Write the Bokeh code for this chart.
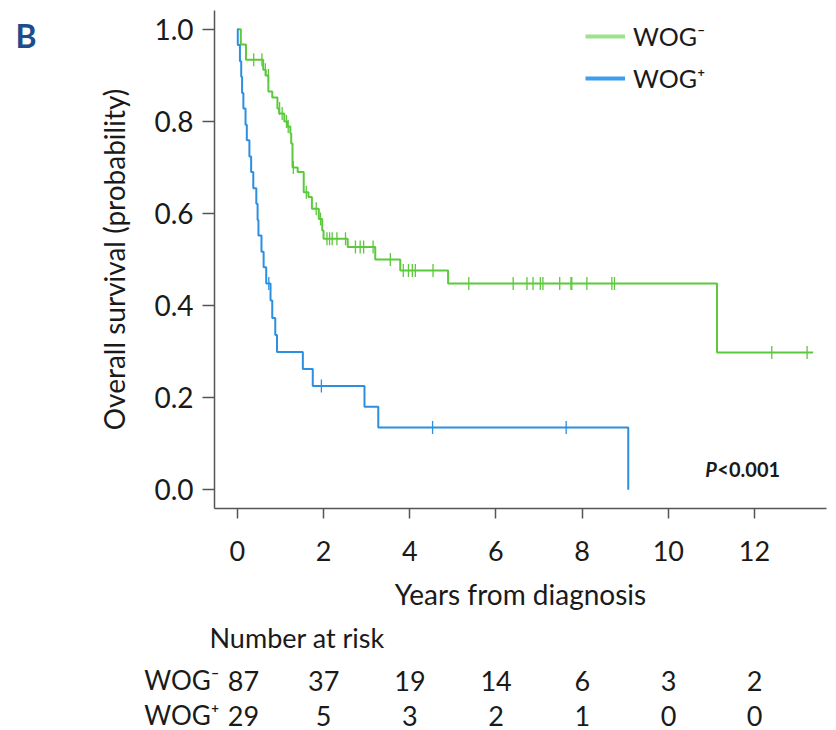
from bokeh.plotting import figure
from bokeh.layouts import column, row
from bokeh.models import Range1d, FixedTicker, PrintfTickFormatter, Label, Legend, LegendItem
from bokeh.core.properties import value
from bokeh.embed import file_html
from bokeh.resources import INLINE

# ---- data ----
# WOG- (green): step times (years) and survival level after each step
neg_t = [0.0, 0.08, 0.20, 0.60, 0.66, 0.72, 0.81, 0.93, 0.97, 1.09, 1.16, 1.23, 1.25, 1.28,
         1.40, 1.54, 1.65, 1.73, 1.89, 1.97, 2.00, 2.56, 3.20, 3.78, 4.89, 11.13, 13.36]
neg_s = [1.0, 0.967, 0.934, 0.912, 0.900, 0.865, 0.852, 0.828, 0.817, 0.800, 0.789, 0.774, 0.752, 0.700,
         0.690, 0.646, 0.636, 0.610, 0.588, 0.563, 0.545, 0.527, 0.500, 0.476, 0.448, 0.298, 0.298]
neg_cens_t = [0.38, 0.57, 0.65, 0.72, 0.98, 1.04, 1.14, 1.18, 1.30, 1.60, 1.83, 1.93,
              2.08, 2.14, 2.20, 2.31, 2.51, 2.74, 2.85, 2.93, 3.15, 3.55,
              3.85, 3.97, 4.06, 4.13, 4.54,
              5.37, 6.40, 6.72, 6.86, 7.03, 7.09, 7.48, 7.74, 7.76, 8.11, 8.69, 8.75,
              12.40, 13.22]
neg_cens_s = [0.934, 0.934, 0.912, 0.900, 0.828, 0.817, 0.800, 0.789, 0.700, 0.646, 0.610, 0.588,
              0.545, 0.545, 0.545, 0.545, 0.545, 0.527, 0.527, 0.527, 0.527, 0.500,
              0.476, 0.476, 0.476, 0.476, 0.476,
              0.448, 0.448, 0.448, 0.448, 0.448, 0.448, 0.448, 0.448, 0.448, 0.448, 0.448, 0.448,
              0.298, 0.298]

# WOG+ (blue)
pos_t = [0.0, 0.01, 0.06, 0.09, 0.11, 0.14, 0.19, 0.22, 0.28, 0.32, 0.37, 0.44, 0.47, 0.49,
         0.56, 0.61, 0.67, 0.77, 0.81, 0.88, 0.92, 1.52, 1.75, 2.95, 3.27, 9.07]
pos_s = [1.0, 0.966, 0.931, 0.897, 0.862, 0.828, 0.793, 0.759, 0.724, 0.690, 0.655, 0.621, 0.586, 0.552,
         0.517, 0.483, 0.448, 0.411, 0.373, 0.336, 0.299, 0.262, 0.225, 0.180, 0.135, 0.0]
pos_cens_t = [0.73, 1.95, 4.53, 7.63]
pos_cens_s = [0.448, 0.225, 0.135, 0.135]

x_ticks = [0, 2, 4, 6, 8, 10, 12]
y_ticks = [0.0, 0.2, 0.4, 0.6, 0.8, 1.0]
risk_neg = [87, 37, 19, 14, 6, 3, 2]
risk_pos = [29, 5, 3, 2, 1, 0, 0]
label_neg = "WOG\u207b"
label_pos = "WOG\u207a"

GREEN = "#5bc93b"
BLUE = "#2b8fe2"
GREEN_LEG = "#9be38c"
BLUE_LEG = "#3f9eec"
FONT = "Lato"
TXT = "#1a1a1a"

# pixel <-> data mapping of the main frame (page coordinates)
X0_PX, PX_PER_YEAR = 237.0, 43.1


def px2x(px):
    return (px - X0_PX) / PX_PER_YEAR


def py2y(py):
    return (489 - py) / 460


# ---------------- left strip with panel letter ----------------
pb = figure(width=60, height=620, x_range=Range1d(0, 60), y_range=Range1d(620, 0),
            output_backend="svg", toolbar_location=None, min_border=0)
pb.axis.visible = False
pb.grid.visible = False
pb.outline_line_color = None
pb.text(x=[15], y=[31], text=["B"], text_font=value(FONT), text_font_style="bold",
        text_font_size="32px", text_color="#1c4d8c", text_baseline="middle")

# ---------------- main KM plot ----------------
p = figure(frame_width=612, frame_height=498, x_range=Range1d(-0.53, 13.67), y_range=Range1d(-0.041, 1.041),
           output_backend="svg", toolbar_location=None,
           min_border_left=154, min_border_right=10, min_border_top=10, min_border_bottom=112)
p.outline_line_color = None
p.xgrid.visible = False
p.ygrid.visible = False

for ax in (p.xaxis[0], p.yaxis[0]):
    ax.axis_line_color = "#555555"
    ax.axis_line_width = 1.5
    ax.major_tick_line_color = "#555555"
    ax.major_tick_line_width = 1.5
    ax.major_tick_in = 0
    ax.minor_tick_line_color = None
    ax.major_label_text_font = FONT
    ax.major_label_text_color = TXT
    ax.axis_label_text_font = FONT
    ax.axis_label_text_color = TXT
    ax.axis_label_text_font_style = "normal"
    ax.axis_label_text_font_size = "28px"

p.xaxis.ticker = FixedTicker(ticks=x_ticks)
p.xaxis.major_tick_out = 10
p.xaxis.major_label_text_font_size = "27px"
p.xaxis.major_label_standoff = 22
p.xaxis.axis_label = "Years from diagnosis"
p.xaxis.axis_label_standoff = 13

p.yaxis.ticker = FixedTicker(ticks=y_ticks)
p.yaxis.formatter = PrintfTickFormatter(format="%.1f")
p.yaxis.major_tick_out = 12
p.yaxis.major_label_text_font_size = "28px"
p.yaxis.major_label_standoff = 9
p.yaxis.axis_label = "Overall survival (probability)"
p.yaxis.axis_label_standoff = 20

p.step(neg_t, neg_s, mode="after", line_color=GREEN, line_width=2)
p.step(pos_t, pos_s, mode="after", line_color=BLUE, line_width=2)
p.scatter(neg_cens_t, neg_cens_s, marker="dash", angle=1.5708, size=13, line_color=GREEN, line_width=1.3)
p.scatter(pos_cens_t, pos_cens_s, marker="dash", angle=1.5708, size=13, line_color=BLUE, line_width=1.3)

nan = float("nan")
leg_g = p.line([nan], [nan], line_color=GREEN_LEG, line_width=4)
leg_b = p.line([nan], [nan], line_color=BLUE_LEG, line_width=4)
legend = Legend(items=[LegendItem(label=label_neg, renderers=[leg_g], index=0),
                       LegendItem(label=label_pos, renderers=[leg_b], index=0)],
                location=(371, 415), glyph_width=40, glyph_height=20, label_standoff=8,
                spacing=12, padding=0, margin=0, border_line_color=None,
                background_fill_alpha=0, label_text_font=FONT, label_text_font_size="25px",
                label_text_color=TXT)
p.add_layout(legend)

p.add_layout(Label(x=px2x(705), y=py2y(468), text="P", text_font=FONT, text_font_style="bold italic",
                   text_font_size="20px", text_color=TXT, text_baseline="middle"))
p.add_layout(Label(x=px2x(717), y=py2y(468), text="<0.001", text_font=FONT, text_font_style="bold",
                   text_font_size="20px", text_color=TXT, text_baseline="middle"))

# ---------------- number-at-risk table ----------------
pt = figure(width=836, height=110, x_range=Range1d(px2x(0), px2x(836)), y_range=Range1d(110, 0),
            output_backend="svg", toolbar_location=None, min_border=0)
pt.axis.visible = False
pt.grid.visible = False
pt.outline_line_color = None

pt.text(x=[px2x(209)], y=[17], text=["Number at risk"], text_font=value(FONT), text_font_size="27px",
        text_color=TXT, text_baseline="middle", text_align="left")
pt.text(x=[px2x(219), px2x(219)], y=[59, 94], text=[label_neg, label_pos], text_font=value(FONT),
        text_font_size="26px", text_color=TXT, text_baseline="middle", text_align="right")
pt.text(x=x_ticks, y=[60] * len(x_ticks), text=[str(v) for v in risk_neg], text_font=value(FONT),
        text_font_size="27px", text_color=TXT, text_baseline="middle", text_align="center",
        x_offset=[6, 0, 0, 0, 0, 0, 0])
pt.text(x=x_ticks, y=[95] * len(x_ticks), text=[str(v) for v in risk_pos], text_font=value(FONT),
        text_font_size="27px", text_color=TXT, text_baseline="middle", text_align="center",
        x_offset=[6, 0, 0, 0, 0, 0, 0])

layout = column(row(pb, p), pt)
open("out.html", "w").write(file_html(layout, INLINE))
